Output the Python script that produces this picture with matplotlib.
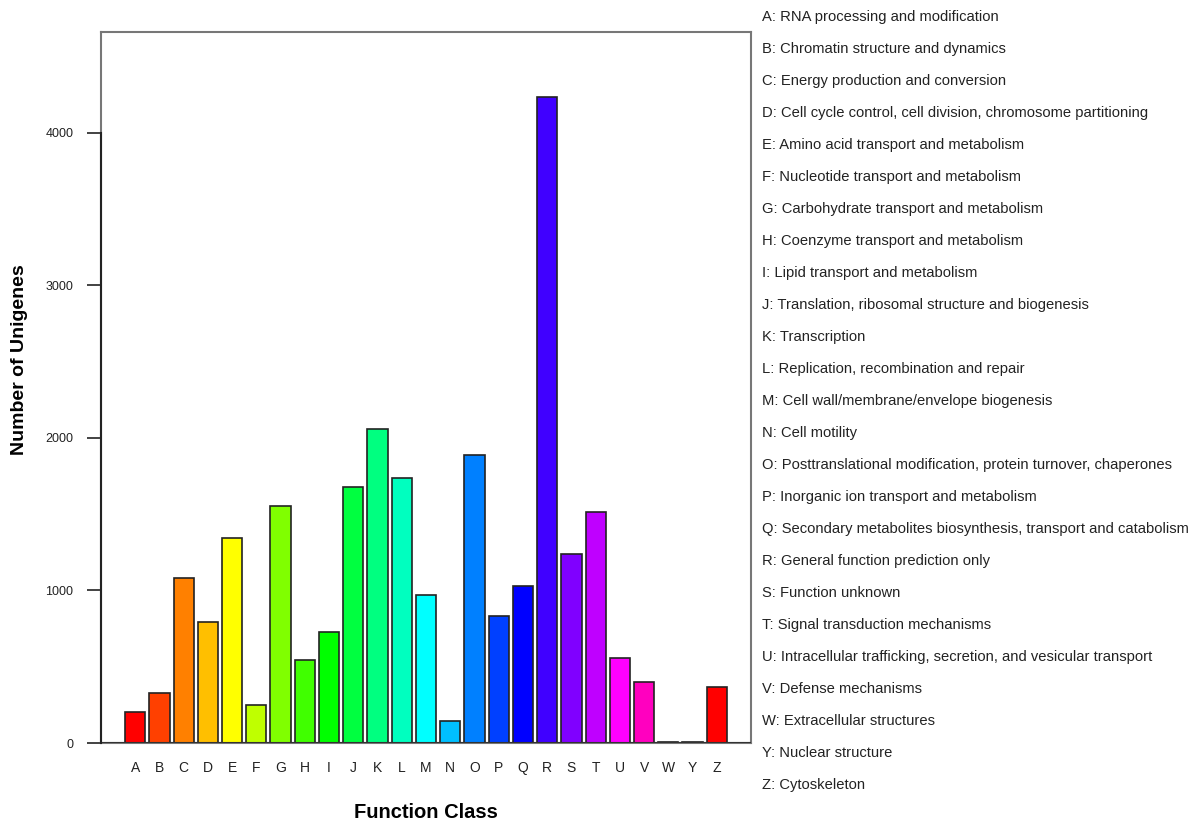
import matplotlib
matplotlib.use("Agg")
import matplotlib.pyplot as plt
import colorsys

plt.rcParams['font.family'] = ['Liberation Sans', 'DejaVu Sans']

classes = ["A", "B", "C", "D", "E", "F", "G", "H", "I", "J", "K", "L", "M",
           "N", "O", "P", "Q", "R", "S", "T", "U", "V", "W", "Y", "Z"]
counts = [200, 330, 1080, 793, 1344, 251, 1554, 542, 730, 1679, 2059, 1738, 970,
          142, 1889, 835, 1031, 4238, 1239, 1515, 559, 400, 8, 8, 365]
descriptions = [
    "RNA processing and modification",
    "Chromatin structure and dynamics",
    "Energy production and conversion",
    "Cell cycle control, cell division, chromosome partitioning",
    "Amino acid transport and metabolism",
    "Nucleotide transport and metabolism",
    "Carbohydrate transport and metabolism",
    "Coenzyme transport and metabolism",
    "Lipid transport and metabolism",
    "Translation, ribosomal structure and biogenesis",
    "Transcription",
    "Replication, recombination and repair",
    "Cell wall/membrane/envelope biogenesis",
    "Cell motility",
    "Posttranslational modification, protein turnover, chaperones",
    "Inorganic ion transport and metabolism",
    "Secondary metabolites biosynthesis, transport and catabolism",
    "General function prediction only",
    "Function unknown",
    "Signal transduction mechanisms",
    "Intracellular trafficking, secretion, and vesicular transport",
    "Defense mechanisms",
    "Extracellular structures",
    "Nuclear structure",
    "Cytoskeleton",
]
yticks = [0, 1000, 2000, 3000, 4000]

# R-style rainbow(24), recycled
ncol = 24
palette = [colorsys.hsv_to_rgb(i / ncol, 1, 1) for i in range(ncol)]
colors = [palette[i % ncol] for i in range(len(classes))]

fig = plt.figure(figsize=(12, 8.32), dpi=100)
ax = fig.add_axes([101 / 1200, 1 - 743 / 832, 650 / 1200, 711 / 832])

width = 1.0
space = 0.2
xs = [space + i * (width + space) + width / 2 for i in range(len(classes))]
ax.bar(xs, counts, width=width, color=colors, edgecolor="#222222", linewidth=1.2, zorder=3)

left = space
right = xs[-1] + width / 2
pad = (right - left) * 0.04
ax.set_xlim(left - pad, right + pad)
ymax = max(counts) * 1.1
ax.set_ylim(0, ymax)

for s in ax.spines.values():
    s.set_color("#777777")
    s.set_linewidth(1.5)

ax.set_xticks(xs)
ax.set_xticklabels(classes, fontsize=10, color="#222222")
ax.tick_params(axis="x", length=0, pad=13)
ax.set_yticks(yticks)
ax.set_yticklabels([str(v) for v in yticks], fontsize=9, color="#222222")
ax.tick_params(axis="y", length=10, width=1.2, color="#222222", pad=10)
ax.plot([0, 0], [0, yticks[-1]], color="#222222", lw=1.5, transform=ax.get_yaxis_transform(), clip_on=False, zorder=5)
ax.axhline(0, color="#333333", lw=1.5, zorder=4)

fig.text(426 / 1200, 1 - 813 / 832, "Function Class", fontsize=14.5, fontweight="bold",
         ha="center", va="center")
fig.text(20 / 1200, 1 - 360 / 832, "Number of Unigenes", fontsize=14, fontweight="bold",
         ha="center", va="center", rotation=90)

y0 = 17
y1 = 785
n = len(classes)
for i, (c, d) in enumerate(zip(classes, descriptions)):
    yp = y0 + (y1 - y0) * i / (n - 1)
    fig.text(762 / 1200, 1 - yp / 832, f"{c}: {d}", fontsize=10.6, va="center", ha="left", color="#222222")

fig.savefig("out.png", dpi=100)
